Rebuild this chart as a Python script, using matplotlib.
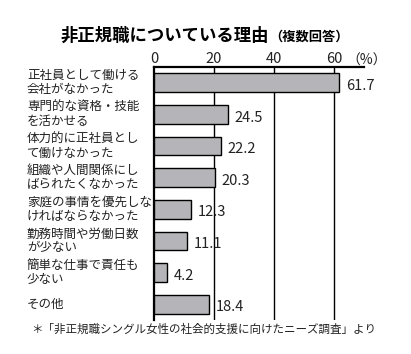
import matplotlib
matplotlib.use('Agg')
import matplotlib.pyplot as plt

plt.rcParams['font.family'] = ['Noto Sans CJK JP', 'DejaVu Sans']

reasons = [
    '正社員として働ける\n会社がなかった',
    '専門的な資格・技能\nを活かせる',
    '体力的に正社員とし\nて働けなかった',
    '組織や人間関係にし\nばられたくなかった',
    '家庭の事情を優先しな\nければならなかった',
    '勤務時間や労働日数\nが少ない',
    '簡単な仕事で責任も\n少ない',
    'その他',
]
values = [61.7, 24.5, 22.2, 20.3, 12.3, 11.1, 4.2, 18.4]
ticks = [0, 20, 40, 60]

fig = plt.figure(figsize=(4.11, 3.54), dpi=100)
ax = fig.add_axes([0.3747, 0.096, 0.511, 0.7147])

y = range(len(values))
ax.barh(y, values, height=0.59, color='#b5b5b9', edgecolor='black', linewidth=1.0, zorder=3)
for yi, v in zip(y, values):
    ax.text(v + 2.3, yi + 0.1, '%.1f' % v, va='center', ha='left', fontsize=10.5, color='#222222')

ax.set_xlim(0, 70)
ax.set_ylim(len(values) - 0.5, -0.5)
ax.xaxis.tick_top()
ax.set_xticks(ticks)
ax.set_xticklabels([str(t) for t in ticks], fontsize=10.5, color='#222222')
ax.tick_params(axis='x', length=0, pad=1)
ax.set_yticks([])
for t in ticks[1:]:
    ax.axvline(t, color='black', linewidth=1.0, zorder=1)
for s in ['right', 'bottom']:
    ax.spines[s].set_visible(False)
ax.spines['left'].set_linewidth(1.6)
ax.spines['top'].set_linewidth(1.6)

for yi, lab in zip(y, reasons):
    ax.text(-0.605, yi, lab, transform=ax.get_yaxis_transform(), ha='left', va='center',
            fontsize=9.0, linespacing=1.1, color='#222222')

fig.text(0.843, 0.83, '（%）', fontsize=10, ha='left', va='center', color='#222222')
fig.text(0.148, 0.898, '非正規職についている理由', fontsize=12.5, fontweight='bold', ha='left', va='center')
fig.text(0.655, 0.895, '（複数回答）', fontsize=9.5, fontweight='bold', ha='left', va='center')
fig.text(0.075, 0.07, '＊「非正規職シングル女性の社会的支援に向けたニーズ調査」より', fontsize=8.3,
         ha='left', va='center', color='#222222')

fig.savefig('out.png', dpi=100)
